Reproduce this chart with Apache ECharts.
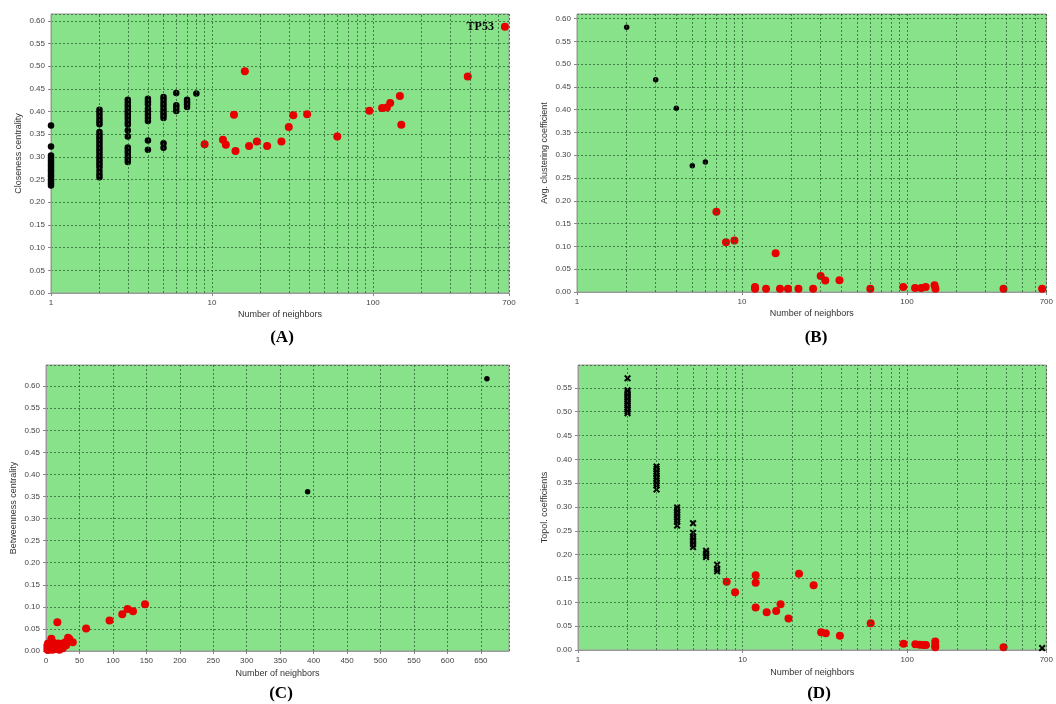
<!DOCTYPE html>
<html><head><meta charset="utf-8">
<script src="https://cdn.jsdelivr.net/npm/echarts@6/dist/echarts.min.js"></script>
<style>html,body{margin:0;padding:0;background:#fff}#c{width:1056px;height:704px}</style>
</head><body><div id="c"></div><script>
// ---------- DATA ----------
// (A) Closeness centrality vs number of neighbors
const closeBlackDeg = [1, 2, 3, 4, 5, 6, 7, 8];
const closeBlackVals = [
  [0.369,0.323,0.303,0.298,0.293,0.289,0.284,0.279,0.274,0.270,0.265,0.260,0.256,0.251,0.247,0.242,0.237],
  [0.404,0.398,0.391,0.384,0.378,0.372,0.355,0.349,0.343,0.337,0.331,0.325,0.319,0.313,0.307,0.301,0.295,0.289,0.283,0.277,0.269,0.261,0.255],
  [0.426,0.420,0.414,0.408,0.402,0.396,0.390,0.384,0.377,0.371,0.358,0.345,0.321,0.315,0.309,0.302,0.295,0.289],
  [0.428,0.422,0.416,0.406,0.400,0.393,0.386,0.379,0.336,0.316],
  [0.432,0.426,0.419,0.412,0.405,0.398,0.392,0.386,0.330,0.320],
  [0.441,0.414,0.408,0.401],
  [0.426,0.421,0.416,0.410],
  [0.440]
];
const closeRed = [[9,0.328],[11.7,0.338],[12.2,0.327],[13.7,0.393],[14,0.313],[16,0.489],[17,0.324],[19,0.334],[22,0.324],[27,0.334],[30,0.366],[32,0.392],[39,0.394],[60,0.345],[95,0.402],[114,0.408],[122,0.409],[128,0.419],[147,0.434],[150,0.371],[388,0.477]];
const closeHub = [[660,0.587]];
const hubName = 'TP53';

// (B) Avg. clustering coefficient
const clustBlack = [[2,0.581],[3,0.466],[4,0.403],[5,0.277],[6,0.285]];
const clustRed = [[7,0.176],[8,0.109],[9,0.113],[12,0.011],[12,0.007],[14,0.007],[16,0.085],[17,0.007],[19,0.007],[22,0.007],[27,0.007],[30,0.035],[32,0.025],[39,0.026],[60,0.007],[95,0.011],[112,0.009],[122,0.009],[130,0.011],[147,0.015],[149,0.007],[385,0.007],[660,0.007]];

// (C) Betweenness centrality (linear x)
const betwBlack = [[391,0.361],[659,0.617]];
const betwRed = [[2,0.004],[2,0.012],[3,0.017],[3,0.002],[4,0.008],[5,0.005],[6,0.014],[7,0.010],[8,0.028],[9,0.003],[10,0.020],[11,0.008],[12,0.013],[12,0.004],[14,0.010],[16,0.006],[17,0.065],[18,0.017],[19,0.012],[20,0.003],[22,0.009],[23,0.016],[25,0.006],[27,0.014],[28,0.019],[30,0.013],[32,0.022],[33,0.030],[35,0.027],[40,0.020],[60,0.051],[95,0.069],[114,0.083],[122,0.095],[130,0.090],[148,0.106]];

// (D) Topological coefficients
const topoBlackDeg = [2, 3, 4, 5, 6, 7, 660];
const topoBlackVals = [
  [0.570,0.545,0.541,0.537,0.533,0.529,0.525,0.521,0.517,0.513,0.509,0.505,0.501,0.497],
  [0.385,0.380,0.375,0.370,0.365,0.360,0.355,0.350,0.345,0.337],
  [0.299,0.294,0.289,0.284,0.279,0.274,0.269,0.261],
  [0.266,0.246,0.238,0.233,0.228,0.222,0.216],
  [0.208,0.203,0.199,0.195],
  [0.179,0.170,0.165],
  [0.004]
];
const topoRed = [[8,0.143],[9,0.121],[12,0.157],[12,0.141],[12,0.089],[14,0.079],[16,0.082],[17,0.096],[19,0.066],[22,0.160],[27,0.136],[30,0.037],[32,0.035],[39,0.030],[60,0.056],[95,0.013],[112,0.012],[119,0.011],[125,0.0105],[130,0.0105],[148,0.018],[148,0.010],[148,0.006],[385,0.006]];

// axis ticks / labels
const logMinorTicks = [2,3,4,5,6,7,8,9,20,30,40,50,60,70,80,90,200,300,400,500,600];
const panelLabels = ['(A)', '(B)', '(C)', '(D)'];
const yNames = ['Closeness centrality', 'Avg. clustering coefficient', 'Betweenness centrality', 'Topol. coefficients'];
const xName = 'Number of neighbors';

// ---------- BUILD ----------
function cols(degs, vals) { const out = []; degs.forEach((d, i) => vals[i].forEach(v => out.push([d, v]))); return out; }

const GREEN = '#88e28a', GRIDC = 'rgba(40,95,45,0.75)', RED = '#e60000';
const FONT = '"Liberation Sans", Arial, sans-serif';
const grids = [
  {left: 51, top: 14, width: 458, height: 279},
  {left: 577, top: 14, width: 470, height: 278},
  {left: 46, top: 365, width: 463, height: 286},
  {left: 578, top: 365, width: 469, height: 285}
].map(g => Object.assign(g, {show: true, backgroundColor: GREEN, borderColor: '#9a9a9a', borderWidth: 1}));

const splitStyle = {show: true, lineStyle: {color: GRIDC, type: [2, 2], width: 1}};
function xAxisLog(i) {
  return {type: 'log', logBase: 10, gridIndex: i, min: 1, max: 700, name: xName, nameLocation: 'middle', nameGap: 17,
    nameTextStyle: {fontFamily: FONT, fontSize: 9, color: '#333'},
    axisLine: {show: true, lineStyle: {color: '#999'}}, axisTick: {show: true, length: 3, lineStyle: {color: '#888'}},
    axisLabel: {fontFamily: FONT, fontSize: 8, color: '#444', margin: 6, showMinLabel: true, showMaxLabel: true,
      formatter: v => String(Math.round(v))},
    splitLine: splitStyle};
}
function yAxisVal(i, max, gap) {
  return {type: 'value', gridIndex: i, min: 0, max: max, interval: 0.05, name: yNames[i], nameLocation: 'middle', nameGap: gap,
    nameTextStyle: {fontFamily: FONT, fontSize: 9, color: '#333'},
    axisLine: {show: true, lineStyle: {color: '#999'}}, axisTick: {show: true, length: 3, lineStyle: {color: '#888'}},
    axisLabel: {fontFamily: FONT, fontSize: 8, color: '#444', margin: 6, showMaxLabel: false, formatter: v => v.toFixed(2)},
    splitLine: splitStyle};
}
const xAxes = [xAxisLog(0), xAxisLog(1),
  {type: 'value', gridIndex: 2, min: 0, max: 692, interval: 50, name: xName, nameLocation: 'middle', nameGap: 18,
    nameTextStyle: {fontFamily: FONT, fontSize: 9, color: '#333'},
    axisLine: {show: true, lineStyle: {color: '#999'}}, axisTick: {show: true, length: 3, lineStyle: {color: '#888'}},
    axisLabel: {fontFamily: FONT, fontSize: 8, color: '#444', margin: 6, showMaxLabel: false},
    splitLine: splitStyle},
  xAxisLog(3)];
xAxes[3].nameGap = 18;
const yAxes = [yAxisVal(0, 0.615, 28), yAxisVal(1, 0.61, 28), yAxisVal(2, 0.648, 28), yAxisVal(3, 0.598, 29)];

const crossPath = 'path://M0,2L2,0L5,3L8,0L10,2L7,5L10,8L8,10L5,7L2,10L0,8L3,5Z';
function sc(i, data, color, size, extra) {
  return Object.assign({type: 'scatter', xAxisIndex: i, yAxisIndex: i, data: data, symbolSize: size, z: 3,
    itemStyle: {color: color, opacity: 1}, silent: true, animation: false}, extra || {});
}
function minorLines(i) {
  return {type: 'scatter', xAxisIndex: i, yAxisIndex: i, data: [], z: 1, silent: true, animation: false,
    markLine: {silent: true, animation: false, symbol: ['none', 'none'], label: {show: false},
      lineStyle: {color: GRIDC, type: [2, 2], width: 1}, emphasis: {disabled: true},
      data: logMinorTicks.map(t => ({xAxis: t}))}};
}

const series = [
  minorLines(0), minorLines(1), minorLines(3),
  sc(0, cols(closeBlackDeg, closeBlackVals), '#000', 6.5),
  sc(0, closeRed, RED, 8),
  sc(0, closeHub, RED, 8, {label: {show: true, position: 'left', distance: 7, formatter: hubName,
    fontFamily: '"Liberation Serif", serif', fontWeight: 'bold', fontSize: 12, color: '#000'}}),
  sc(1, clustBlack, '#000', 5.5),
  sc(1, clustRed, RED, 8),
  sc(2, betwBlack, '#000', 5.5),
  sc(2, betwRed, RED, 8),
  sc(3, cols(topoBlackDeg, topoBlackVals), '#000', 7, {symbol: crossPath}),
  sc(3, topoRed, RED, 8)
];

const labelPos = [[282, 338], [816, 338], [281, 694], [819, 694]];
const graphic = panelLabels.map((t, i) => ({type: 'text', x: labelPos[i][0], y: labelPos[i][1], silent: true,
  style: {text: t, align: 'center', verticalAlign: 'middle', font: 'bold 17px "Liberation Serif", serif', fill: '#000'}}));

const chart = echarts.init(document.getElementById('c'), null, {renderer: 'canvas'});
chart.setOption({backgroundColor: '#fff', animation: false, grid: grids, xAxis: xAxes, yAxis: yAxes, series: series, graphic: graphic});
</script></body></html>
